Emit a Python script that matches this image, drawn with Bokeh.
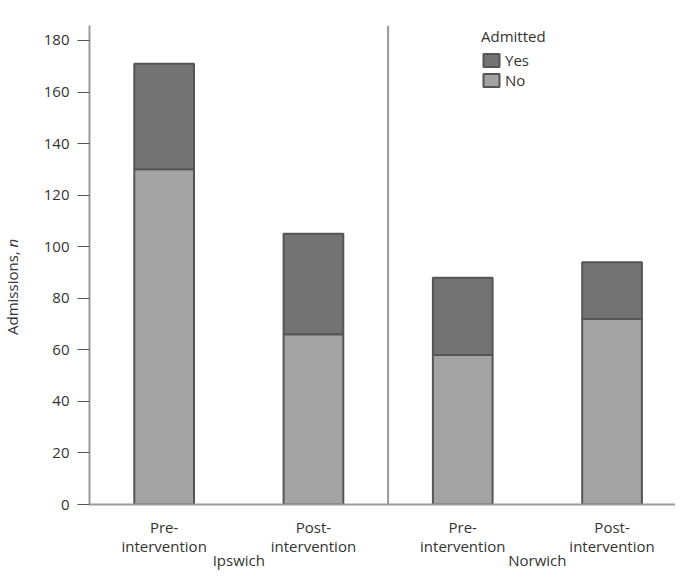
from bokeh.plotting import figure
from bokeh.layouts import row
from bokeh.models import (ColumnDataSource, Range1d, Span, Legend, LegendItem,
                          Label, FixedTicker, LinearAxis)
from bokeh.embed import file_html
from bokeh.resources import INLINE
import math

# ---- data ----
sites = ["Ipswich", "Ipswich", "Norwich", "Norwich"]
phases = ["Pre-\nintervention", "Post-\nintervention",
          "Pre-\nintervention", "Post-\nintervention"]
no_counts = [130, 66, 58, 72]
yes_counts = [41, 39, 30, 22]
y_ticks = [0, 20, 40, 60, 80, 100, 120, 140, 160, 180]
legend_title = "Admitted"
series_names = ["No", "Yes"]
y_title = "Admissions, "
y_title_italic = "n"

FONT = "Open Sans"
FS = "15px"
TXT = "#333333"
AXIS = "#9a9a9a"

xs = list(range(len(phases)))
src = ColumnDataSource(dict(x=xs, No=no_counts, Yes=yes_counts))

# group centres and separators derived from the site list
group_names = []
group_pos = {}
for i, s in enumerate(sites):
    if s not in group_pos:
        group_names.append(s)
        group_pos[s] = []
    group_pos[s].append(i)
group_centres = [sum(v) / len(v) for v in group_pos.values()]
separators = [group_pos[g][0] - 0.5 for g in group_names[1:]]

W, H = 675, 572
TITLE_W = 24
TOP, BOTTOM = 25, 504

p = figure(width=W - TITLE_W, height=H,
           x_range=Range1d(-0.5, 3.425), y_range=Range1d(0, 185.8),
           output_backend="svg", toolbar_location=None,
           min_border_left=89 - TITLE_W, min_border_right=0,
           min_border_top=TOP, min_border_bottom=H - BOTTOM)
p.outline_line_color = None
p.xgrid.grid_line_color = None
p.ygrid.grid_line_color = None

rs = p.vbar_stack(series_names, x="x", width=0.4, source=src,
                  fill_color=["#a3a3a3", "#737373"], line_color="#555555",
                  line_width=2)
r_no, r_yes = rs

for loc in separators:
    p.add_layout(Span(location=loc, dimension="height", line_color=AXIS,
                      line_width=2))

# y axis
ya = p.yaxis[0]
ya.ticker = FixedTicker(ticks=y_ticks)
ya.minor_tick_line_color = None
ya.major_tick_out = 12
ya.major_tick_in = 0
ya.major_tick_line_color = "#555555"
ya.major_tick_line_width = 1
ya.axis_line_color = AXIS
ya.axis_line_width = 2
ya.major_label_standoff = 8
ya.major_label_text_font = FONT
ya.major_label_text_font_size = FS
ya.major_label_text_color = TXT

# x axis: phase labels
xa = p.xaxis[0]
xa.ticker = FixedTicker(ticks=xs)
xa.major_label_overrides = {i: ph for i, ph in zip(xs, phases)}
xa.major_tick_line_color = None
xa.major_tick_out = 0
xa.major_tick_in = 0
xa.minor_tick_line_color = None
xa.axis_line_color = AXIS
xa.axis_line_width = 2
xa.major_label_standoff = 12
xa.major_label_text_font = FONT
xa.major_label_text_font_size = FS
xa.major_label_text_color = TXT
xa.major_label_text_line_height = 0.95

# second axis: site labels
ga = LinearAxis(ticker=FixedTicker(ticks=group_centres),
                major_label_overrides={c: g for c, g in zip(group_centres, group_names)})
ga.axis_line_color = None
ga.major_tick_line_color = None
ga.major_tick_out = 0
ga.major_tick_in = 0
ga.minor_tick_line_color = None
ga.major_label_standoff = -9
ga.major_label_text_font = FONT
ga.major_label_text_font_size = FS
ga.major_label_text_color = TXT
p.add_layout(ga, "below")

legend = Legend(items=[LegendItem(label="Yes", renderers=[r_yes]),
                       LegendItem(label="No", renderers=[r_no])],
                location=(392, 414), title=legend_title,
                title_text_font=FONT, title_text_font_size=FS,
                title_text_color=TXT, title_text_font_style="normal",
                title_standoff=4,
                label_text_font=FONT, label_text_font_size=FS,
                label_text_color=TXT, label_standoff=4,
                glyph_width=20, glyph_height=16, label_height=16,
                spacing=0, padding=0, margin=0,
                border_line_color=None, background_fill_alpha=0)
p.add_layout(legend, "center")

# narrow figure that carries the y-axis title (regular text + italic n)
t = figure(width=TITLE_W, height=H, x_range=Range1d(0, TITLE_W),
           y_range=Range1d(H, 0), output_backend="svg", toolbar_location=None,
           x_axis_location=None, y_axis_location=None,
           min_border_left=0, min_border_right=0, min_border_top=0,
           min_border_bottom=0)
t.outline_line_color = None
t.xgrid.grid_line_color = None
t.ygrid.grid_line_color = None
t.add_layout(Label(x=11, y=265, text=y_title, angle=math.pi / 2,
                   text_align="right", text_baseline="middle", text_font=FONT,
                   text_font_size=FS, text_color=TXT))
t.add_layout(Label(x=11, y=265, text=y_title_italic, angle=math.pi / 2,
                   text_align="left", text_baseline="middle", text_font=FONT,
                   text_font_style="italic", text_font_size=FS,
                   text_color=TXT))

layout = row(t, p, spacing=0)
open("out.html", "w").write(file_html(layout, INLINE))
